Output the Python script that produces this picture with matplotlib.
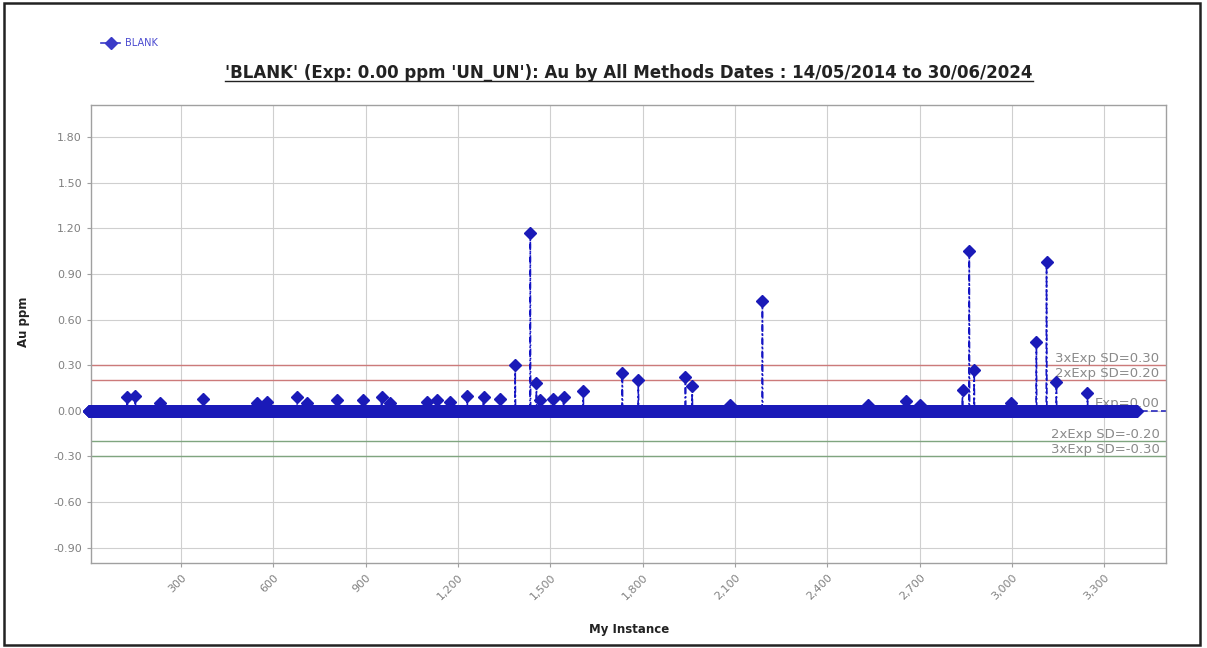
import numpy as np
import matplotlib
matplotlib.use("Agg")
import matplotlib.pyplot as plt
from matplotlib.patches import Rectangle
from matplotlib.lines import Line2D

# ---------------- data ----------------
series_name = "BLANK"
n_points = 3405                      # instances 1..n_points, baseline 0.00
spike_instances = [126, 152, 233, 373, 547, 580, 677, 710, 807, 892, 952, 979,
                   1100, 1132, 1175, 1230, 1283, 1337, 1386, 1435, 1455, 1467,
                   1510, 1543, 1607, 1734, 1786, 1939, 1961, 2085, 2189, 2533,
                   2654, 2702, 2839, 2861, 2877, 2995, 3079, 3112, 3144, 3245]
spike_values = [0.09, 0.10, 0.05, 0.08, 0.05, 0.06, 0.09, 0.05, 0.07, 0.07, 0.09, 0.05,
                0.06, 0.07, 0.06, 0.10, 0.09, 0.08, 0.30, 1.17, 0.18, 0.07,
                0.08, 0.09, 0.13, 0.25, 0.20, 0.22, 0.16, 0.04, 0.72, 0.04,
                0.065, 0.04, 0.14, 1.05, 0.27, 0.05, 0.45, 0.98, 0.19, 0.12]
ref_levels = [0.30, 0.20, 0.00, -0.20, -0.30]
ref_labels = ["3xExp SD=0.30", "2xExp SD=0.20", "Exp=0.00", "2xExp SD=-0.20", "3xExp SD=-0.30"]
ref_colors = ["#cc7a7a", "#cc7a7a", "#2a2ac0", "#7fa57f", "#7fa57f"]
y_ticks = [1.80, 1.50, 1.20, 0.90, 0.60, 0.30, 0.00, -0.30, -0.60, -0.90]
x_ticks = [300, 600, 900, 1200, 1500, 1800, 2100, 2400, 2700, 3000, 3300]
title = "'BLANK' (Exp: 0.00 ppm 'UN_UN'): Au by All Methods Dates : 14/05/2014 to 30/06/2024"

instances = np.arange(1, n_points + 1)
values = np.zeros(n_points)
values[np.array(spike_instances) - 1] = spike_values

# ---------------- figure ----------------
W, H = 1207, 648
fig = plt.figure(figsize=(W / 100, H / 100), dpi=100)
fig.patch.set_facecolor("white")

# outer border
fig.patches.append(Rectangle((4 / W, 3 / H), (1200 - 4) / W, (645 - 3) / H,
                             transform=fig.transFigure, fill=False,
                             edgecolor="#222222", linewidth=1.8))

L, R, T, B = 91, 1166, 105, 563
ax = fig.add_axes([L / W, 1 - B / H, (R - L) / W, (B - T) / H])
ax.set_xlim(8, 3500)
ax.set_ylim(-1.0, 2.01)

ax.grid(True, color="#cfcfcf", linewidth=0.8)
ax.set_axisbelow(True)
for s in ax.spines.values():
    s.set_color("#a0a0a0")
    s.set_linewidth(1.0)

ax.set_yticks(y_ticks)
ax.set_yticklabels([f"{v:.2f}" for v in y_ticks])
ax.set_xticks(x_ticks)
ax.set_xticklabels([f"{v:,}" for v in x_ticks], rotation=45, ha="right",
                   va="top", rotation_mode="anchor")
ax.tick_params(axis="both", colors="#a0a0a0", labelcolor="#808080",
               labelsize=8, length=3)

# reference lines
for lvl, lab, col in zip(ref_levels, ref_labels, ref_colors):
    if lvl == 0:
        ax.axhline(lvl, color=col, linewidth=1.2, linestyle=(0, (4, 2)), zorder=2)
    else:
        ax.axhline(lvl, color=col, linewidth=1.0, zorder=2)
    ax.text(0.994, lvl + 0.004, lab, transform=ax.get_yaxis_transform(),
            ha="right", va="bottom", fontsize=9.5, color="#8a8a8a", zorder=3)

# series
ax.plot(instances, values, color="#1414c4", linewidth=1.2,
        linestyle=(0, (4, 1.5, 1, 1.5)), marker="D", markersize=6.3,
        markerfacecolor="#1a1ab8", markeredgecolor="#1a1ab8",
        zorder=4, clip_on=False)

# legend (top-left)
fig.lines.append(Line2D([101 / W, 120 / W], [1 - 43 / H, 1 - 43 / H],
                        transform=fig.transFigure, color="#3a3ac8",
                        linewidth=1.2, zorder=5))
fig.lines.append(Line2D([110.5 / W], [1 - 43 / H], transform=fig.transFigure,
                        color="#3a3ac8", marker="D", markersize=6, linestyle="none"))
fig.text(125 / W, 1 - 43 / H, series_name, fontsize=7, color="#4a4ad0",
         ha="left", va="center")

# title (bold, underlined)
t = fig.text(629 / W, 1 - 73 / H, title, fontsize=12, fontweight="bold",
             ha="center", va="center", color="#222222")
fig.canvas.draw()
bb = t.get_window_extent(fig.canvas.get_renderer())
fig.lines.append(Line2D([bb.x0 / W, bb.x1 / W], [(bb.y0 + 1) / H, (bb.y0 + 1) / H],
                        transform=fig.transFigure, color="#222222", linewidth=1.0))

# axis labels
fig.text(629 / W, 1 - 630 / H, "My Instance", fontsize=8.5, fontweight="bold",
         ha="center", va="center", color="#222222")
fig.text(23 / W, 1 - 322 / H, "Au ppm", fontsize=8.5, fontweight="bold",
         rotation=90, ha="center", va="center", color="#222222")

fig.savefig("out.png", dpi=100)
